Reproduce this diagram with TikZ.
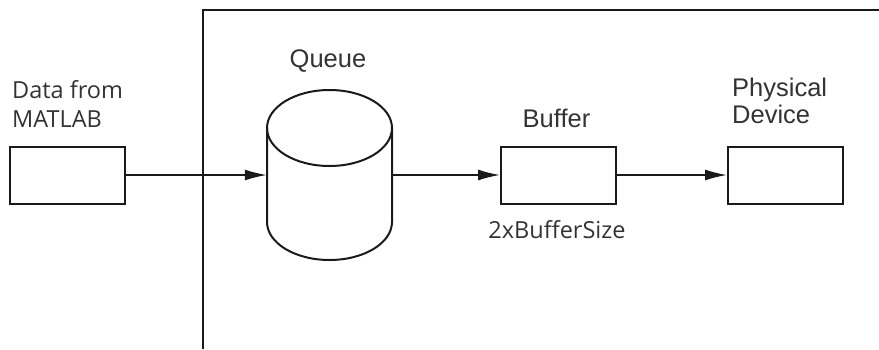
\documentclass[tikz,border=0pt]{standalone}
\usepackage{fontspec}
\setmainfont{Open Sans}
\newfontfamily\helv{Liberation Sans}
\usetikzlibrary{arrows.meta}
\definecolor{txt}{HTML}{333333}
\definecolor{ln}{HTML}{1A1A1A}
\begin{document}
\begin{tikzpicture}[x=1pt,y=-1pt,
  box/.style={draw=ln,line width=2pt,minimum width=115pt,minimum height=57pt,inner sep=0pt},
  lbl/.style={text=txt,font=\fontsize{23.5}{26}\selectfont,inner sep=0pt},
  hlbl/.style={text=txt,font=\helv\fontsize{25.5}{28}\selectfont,inner sep=0pt},
  conn/.style={draw=ln,line width=1.6pt,-{Latex[length=22pt,width=11pt]}},
  frame/.style={draw=ln,line width=2pt}]
\useasboundingbox (0,0) rectangle (879,349);
% frame
\coordinate (fbot) at (203,349);
\coordinate (fcorner) at (203,10);
\coordinate (fright) at (879,10);
\draw[frame] (fbot) -- (fcorner) -- (fright);
% boxes
\node[box] (src) at (67.5,175) {};
\node[box] (buf) at (558.5,175) {};
\node[box] (dev) at (785.5,175) {};
% cylinder
\node[minimum width=125pt,minimum height=170pt,inner sep=0pt] (queue) at (329.5,175) {};
\draw[ln,line width=2pt] (267,128) -- (267,222) arc[start angle=180,end angle=360,x radius=62.5,y radius=-38] -- (392,128);
\draw[ln,line width=2pt] (329.5,128) ellipse[x radius=62.5,y radius=38];
% labels
\node[lbl,anchor=base west] (l1) at (12,98) {Data from};
\node[lbl,anchor=base west] (l2) at (12,127) {MATLAB};
\node[hlbl,anchor=base] (lq) at (328,67) {Queue};
\node[hlbl,anchor=base] (lb) at (556.5,127) {Buffer};
\node[lbl,anchor=base] (ls) at (557,238) {2xBufferSize};
\node[hlbl,anchor=base west] (lp1) at (732,96) {Physical};
\node[hlbl,anchor=base west] (lp2) at (732,123) {Device};
% connectors
\draw[conn] (src.east) -- (queue.west);
\draw[conn] (queue.east) -- (buf.west);
\draw[conn] (buf.east) -- (dev.west);
\end{tikzpicture}
\end{document}
